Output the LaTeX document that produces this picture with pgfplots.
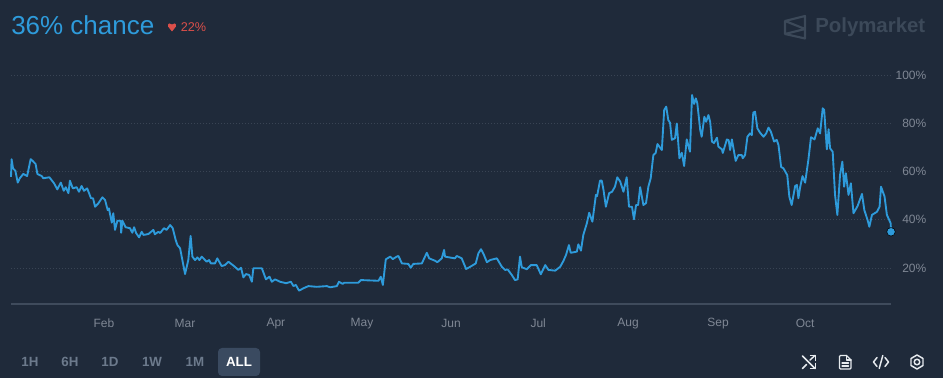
\documentclass[border=0pt]{standalone}
\usepackage{fontspec}
\setmainfont{Liberation Sans}
\newfontfamily\brandfont{Liberation Sans}
\usepackage{pgfplots}
\pgfplotsset{compat=1.18}
\definecolor{bg}{HTML}{1F2A3A}
\definecolor{lineblue}{HTML}{2E9BDB}
\definecolor{gridc}{HTML}{394454}
\definecolor{axisc}{HTML}{3F4B5C}
\definecolor{tickc}{HTML}{7F8794}
\definecolor{btnc}{HTML}{6C7A8C}
\definecolor{btnbg}{HTML}{3A4A60}
\definecolor{redc}{HTML}{DB4F4A}
\definecolor{logoc}{HTML}{3C4959}
\definecolor{iconc}{HTML}{E6EAEE}
\begin{document}
\begin{tikzpicture}[x=0.75pt,y=0.75pt]
\fill[bg] (0,0) rectangle (943,378);
\path[use as bounding box] (0,0) rectangle (943,378);
\begin{axis}[
  at={(8.25pt,55.5pt)}, anchor=south west,
  scale only axis, width=660pt, height=171.75pt,
  xmin=0, xmax=300.3, ymin=5.08, ymax=100,
  clip=false,
  axis x line*=bottom, axis y line*=right,
  y axis line style={draw=none},
  x axis line style={draw=axisc,line width=0.8pt},
  major tick length=0pt,
  xtick={31.7,59.4,90.4,119.8,150.2,179.9,210.6,241.3,271},
  xticklabels={Feb,Mar,Apr,May,Jun,Jul,Aug,Sep,Oct},
  ytick={20,40,60,80,100},
  yticklabels={20\%,40\%,60\%,80\%,100\%},
  ymajorgrids,
  major grid style={draw=gridc,line width=0.5pt,dash pattern=on 0.75pt off 1.5pt},
  every tick label/.append style={font=\fontsize{9}{10}\selectfont,text=tickc},
  xticklabel style={anchor=center,yshift=-14.75pt},
  yticklabel style={anchor=east,xshift=30pt},
]
\addplot[lineblue,line width=1.4pt,line join=round] coordinates {
(0,57.8)(0.2,65.1)(0.7,61.3)(1.5,60.3)(2.3,55.4)(3.0,57.2)(4.2,59.0)(5.5,58.1)(6.7,65.1)(7.3,64.5)(8.4,63.1)(9.0,59.0)(10.5,58.1)(11.0,57.2)(13.1,57.6)(14.7,55.1)(15.8,52.6)(17.0,55.4)(18.0,52.0)(18.7,53.5)(19.6,51.0)(20.1,56.2)(21.1,53.0)(22.4,53.5)(23.2,51.6)(24.1,54.0)(24.9,52.0)(26.0,53.0)(27.3,48.9)(28.0,48.9)(28.7,45.4)(29.8,46.8)(31.2,49.3)(32.1,48.2)(33.0,44.0)(33.4,44.7)(34.4,38.8)(34.9,42.7)(35.5,35.8)(36.3,39.6)(37.4,39.6)(37.6,34.6)(38.0,39.6)(39.1,36.9)(40.6,36.5)(41.4,34.6)(42.0,36.9)(42.7,34.5)(43.7,32.7)(44.6,35.0)(45.2,33.7)(46.9,34.1)(48.6,35.8)(49.1,34.0)(50.3,35.0)(50.9,34.5)(52.2,36.5)(53.1,35.8)(54.3,37.8)(55.2,36.5)(56.2,31.6)(56.8,29.5)(57.7,28.2)(59.4,17.5)(60.5,23.3)(61.3,33.3)(61.9,24.7)(62.8,23.3)(63.6,24.4)(64.3,23.3)(65.1,24.7)(66.8,22.6)(67.6,23.3)(68.2,21.9)(69.6,21.9)(70.4,24.0)(71.9,20.8)(73.0,21.2)(74.2,22.6)(76.1,20.8)(77.6,19.2)(78.5,20.1)(79.3,16.1)(80.2,17.5)(81.3,17.1)(82.2,14.3)(82.7,19.9)(85.6,19.9)(87.0,15.3)(88.2,16.4)(89.0,14.3)(90.1,15.3)(91.8,14.3)(93.9,13.7)(95.5,14.3)(96.4,12.5)(97.2,13.0)(98.3,10.6)(99.8,11.6)(101.5,12.5)(104.3,12.2)(107.8,12.5)(108.9,12.0)(111.2,12.5)(111.9,14.3)(113.2,13.4)(113.7,13.9)(118.5,13.9)(119.4,15.0)(125.4,14.7)(126.2,16.4)(126.9,13.0)(127.9,23.6)(129.4,24.7)(130.3,23.7)(131.6,24.7)(132.2,25.0)(133.4,21.9)(135.6,21.7)(136.4,20.1)(137.3,21.7)(140.2,21.9)(141.0,24.0)(141.9,26.3)(142.7,24.0)(144.7,23.0)(145.5,22.4)(147.0,24.0)(147.8,27.5)(148.1,24.7)(151.5,24.0)(152.1,25.0)(153.8,24.0)(155.3,19.6)(156.7,20.5)(158.6,21.9)(159.5,26.1)(160.4,27.8)(161.4,25.4)(162.4,22.4)(163.5,23.3)(165.8,24.0)(167.5,20.5)(168.6,19.2)(169.5,19.4)(170.9,17.1)(172.0,15.0)(172.9,15.3)(173.7,24.7)(174.3,20.3)(176.0,19.5)(177.4,21.2)(179.4,21.2)(180.8,17.4)(182.3,21.2)(183.4,19.2)(185.7,18.9)(187.4,20.5)(188.5,22.9)(189.4,25.4)(190.4,29.5)(191.0,26.3)(193.1,26.8)(193.6,29.8)(194.5,27.2)(195.3,33.7)(196.5,38.5)(197.3,42.9)(198.4,39.2)(199.6,50.3)(200.0,49.8)(201.0,56.2)(201.6,56.2)(202.2,52.3)(203.0,45.4)(204.1,51.0)(205.1,51.6)(206.1,53.7)(206.9,57.6)(207.9,55.8)(209.0,51.6)(210.1,57.6)(210.9,45.4)(211.9,45.4)(212.6,40.2)(213.3,46.1)(214.0,46.1)(214.7,53.5)(215.8,46.1)(216.7,46.9)(217.5,53.7)(218.3,57.2)(219.2,66.8)(220.0,67.7)(220.6,71.4)(222.1,68.9)(222.9,85.5)(223.6,86.9)(224.3,81.3)(224.9,80.2)(225.5,73.1)(226.6,73.8)(227.2,79.9)(228.1,65.5)(228.9,67.8)(229.7,62.3)(230.6,73.3)(231.7,68.2)(232.4,91.7)(233.1,88.0)(233.7,90.3)(234.2,88.3)(235.2,77.2)(235.7,74.4)(236.6,82.7)(237.2,80.6)(238.0,83.4)(238.6,80.5)(239.2,72.4)(239.9,71.8)(240.9,74.0)(241.4,70.3)(242.6,69.2)(242.9,67.7)(244.3,73.3)(244.9,73.0)(245.4,68.9)(246.0,73.3)(247.3,64.4)(248.2,66.8)(249.4,66.8)(249.7,65.5)(250.5,66.8)(251.3,74.4)(252.2,75.8)(252.8,75.1)(253.3,84.4)(253.9,84.8)(254.7,77.9)(255.6,76.1)(256.8,74.4)(257.7,75.8)(258.5,78.2)(259.3,76.5)(260.4,72.4)(261.3,73.1)(261.9,71.0)(262.8,61.9)(263.6,61.3)(264.9,58.5)(265.6,49.6)(266.4,46.1)(267.6,54.0)(268.2,54.4)(268.7,48.9)(269.3,53.5)(270.1,58.1)(271.0,55.4)(272.1,64.8)(273.0,74.2)(274.2,73.3)(275.3,77.9)(276.1,75.8)(277.0,86.2)(277.5,85.5)(278.4,69.2)(279.0,77.5)(279.5,69.6)(280.4,68.2)(281.2,50.3)(282.0,42.0)(282.9,58.5)(283.7,64.1)(284.3,53.7)(284.9,59.3)(285.8,50.3)(286.6,55.1)(287.5,42.7)(288.9,45.7)(290.4,50.7)(291.2,44.0)(292.3,39.9)(292.9,37.1)(293.8,42.0)(295.5,43.3)(296.4,45.4)(296.9,53.7)(298.1,49.6)(298.9,42.0)(300.2,38.5)(300.3,35.0)
};
\addplot[only marks,mark=*,mark size=3.2pt,mark options={fill=lineblue,draw=none}] coordinates {(300.3,35.0)};
\end{axis}
\begin{scope}[yshift=283.5pt,y=-0.75pt]
% header
\node[anchor=west,inner sep=0,text=lineblue,font=\fontsize{19.5}{22}\selectfont] at (11,25) {36\% chance};
\fill[redc] (172,31.5) -- (168,26.5) .. controls (167,23) and (171,22.5) .. (172,24.5) .. controls (173,22.5) and (177,23) .. (176,26.5) -- cycle;
\node[anchor=west,inner sep=0,text=redc,font=\fontsize{9.5}{11}\selectfont] at (180.5,27) {22\%};
% logo
\draw[logoc,line width=1.6pt,line join=round] (805,16) -- (785,21) -- (785,34) -- (805,38.5) -- cycle (785,21) -- (805,29) -- (785,34);
\node[anchor=west,inner sep=0,text=logoc,font=\brandfont\bfseries\fontsize{15.3}{18}\selectfont] at (815,27) {Polymarket};
% range buttons
\fill[btnbg,rounded corners=3pt] (218,348) rectangle (260,376);
\foreach \x/\t in {30/1H,70/6H,110/1D,152/1W,195/1M}
  \node[text=btnc,inner sep=0,font=\bfseries\fontsize{10}{12}\selectfont] at (\x,362) {\t};
\node[text=white,inner sep=0,font=\bfseries\fontsize{10}{12}\selectfont] at (239,362) {ALL};
% shuffle
\begin{scope}[iconc,line width=1.1pt,line cap=round,line join=round]
\draw (802.5,356) -- (815,368.5) (802.5,368.5) -- (806.5,364.5) (810,360) -- (815,355.5);
\draw (810.5,355.5) -- (815.5,355.5) -- (815.5,360.5) (810.5,368.5) -- (815.5,368.5) -- (815.5,363.5);
% document
\draw[line width=1pt] (839.5,356.5) .. controls (839.5,355.5) .. (840.5,355.5) -- (846.5,355.5) -- (851,360) -- (851,368) .. controls (851,369) .. (850,369) -- (840.5,369) .. controls (839.5,369) .. (839.5,368) -- cycle;
\draw[line width=1pt] (846.5,355.5) -- (846.5,360) -- (851,360) (842,363) -- (848.5,363) (842,366) -- (848.5,366);
% code
\draw (877,357.5) -- (873.5,362) -- (877,366.5) (885,357.5) -- (888.5,362) -- (885,366.5) (882.8,355.5) -- (879.2,368.5);
% gear
\draw (917,355) -- (923,358.5) -- (923,365.5) -- (917,369) -- (911,365.5) -- (911,358.5) -- cycle;
\draw (917,362) circle (2.8);
\end{scope}
\end{scope}
\end{tikzpicture}
\end{document}
